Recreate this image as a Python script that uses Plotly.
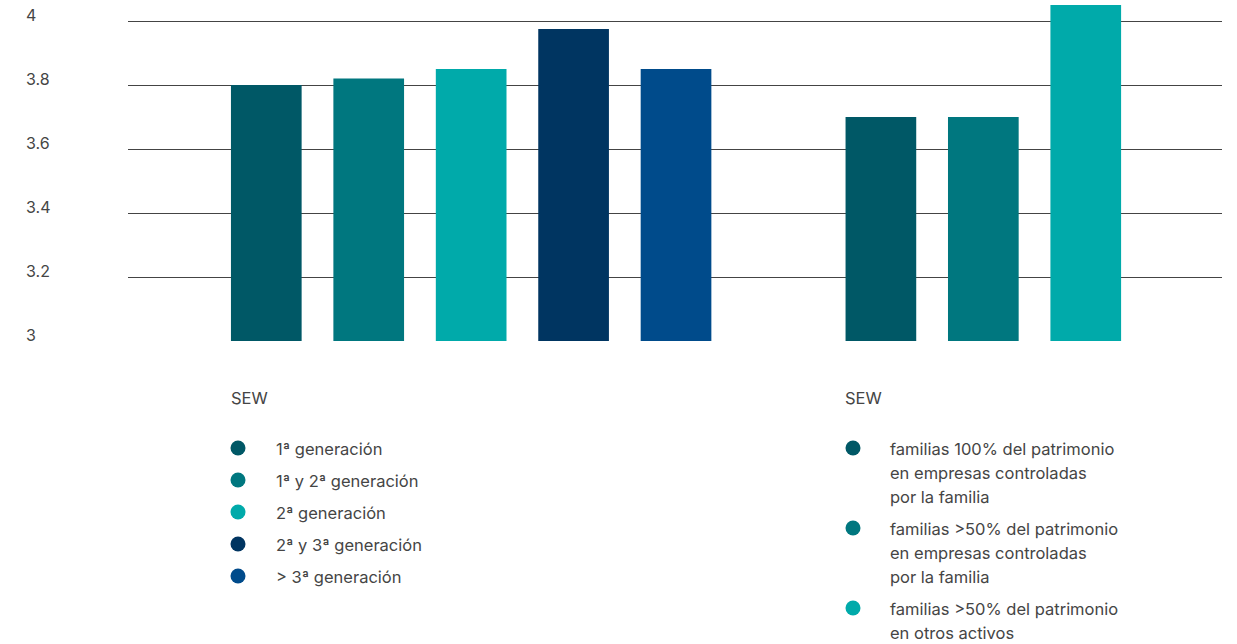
import plotly.graph_objects as go

# Mean SEW score by family generation in control
gen_labels = ["1ª generación", "1ª y 2ª generación", "2ª generación",
              "2ª y 3ª generación", "> 3ª generación"]
gen_values = [3.80, 3.82, 3.85, 3.975, 3.85]
gen_colors = ["#005866", "#00777f", "#00aaaa", "#003561", "#004b8b"]

# Mean SEW score by share of family wealth held in controlled companies
wealth_labels = [
    "familias 100% del patrimonio<br>en empresas controladas<br>por la familia",
    "familias >50% del patrimonio<br>en empresas controladas<br>por la familia",
    "familias >50% del patrimonio<br>en otros activos",
]
wealth_values = [3.70, 3.70, 4.05]
wealth_colors = ["#005866", "#00777f", "#00aaaa"]

y_ticks = [3, 3.2, 3.4, 3.6, 3.8, 4]
y_tick_text = ["3", "3.2", "3.4", "3.6", "3.8", "4"]
legend_title = "SEW"

FONT = "Inter, 'Liberation Sans', Arial, sans-serif"
TEXT_COLOR = "#454545"
FS = 16.5

W, H = 1237, 644
M_L, M_R, M_T, M_B = 128, 15, 0, 303
PW, PH = W - M_L - M_R, H - M_T - M_B

gen_x = list(range(len(gen_values)))
wealth_x = [len(gen_values) + 1 + i for i in range(len(wealth_values))]

fig = go.Figure()
fig.add_trace(go.Bar(x=gen_x, y=gen_values, marker=dict(color=gen_colors, line_width=0),
                     width=0.69, showlegend=False, hoverinfo="y"))
fig.add_trace(go.Bar(x=wealth_x, y=wealth_values, marker=dict(color=wealth_colors, line_width=0),
                     width=0.69, showlegend=False, hoverinfo="y"))


def px_x(px):
    return (px - M_L) / PW


def px_y(py):
    return (M_T + PH - py) / PH


annotations = []
shapes = []

# y tick labels, left aligned, sitting on their gridlines
for v, t in zip(y_ticks, y_tick_text):
    annotations.append(dict(
        x=px_x(24), xref="paper", y=v, yref="y", text=t, showarrow=False,
        xanchor="left", yanchor="bottom", yshift=-6,
        font=dict(family=FONT, size=16, color=TEXT_COLOR)))


def draw_legend(x_title, x_dot, x_text, y_first, labels, colors, line_h, item_gap):
    annotations.append(dict(
        x=px_x(x_title), y=px_y(398), xref="paper", yref="paper", text=legend_title,
        showarrow=False, xanchor="left", yanchor="middle",
        font=dict(family=FONT, size=FS, color=TEXT_COLOR)))
    y = y_first
    for lab, col in zip(labels, colors):
        lines = lab.split("<br>")
        r = 7.5
        shapes.append(dict(
            type="circle", xref="paper", yref="paper",
            x0=px_x(x_dot - r), x1=px_x(x_dot + r),
            y0=px_y(y - 1 + r), y1=px_y(y - 1 - r),
            fillcolor=col, line_width=0))
        for k, line in enumerate(lines):
            annotations.append(dict(
                x=px_x(x_text), y=px_y(y + k * line_h), xref="paper", yref="paper",
                text=line, showarrow=False, xanchor="left", yanchor="middle",
                font=dict(family=FONT, size=FS, color=TEXT_COLOR)))
        y += len(lines) * line_h + item_gap


draw_legend(229, 238, 274, 449, gen_labels, gen_colors, 32, 0)
draw_legend(843, 853, 888, 449, wealth_labels, wealth_colors, 24, 8)

n_slots = len(gen_values) + 1 + len(wealth_values)
fig.update_layout(
    width=W, height=H,
    margin=dict(l=M_L, r=M_R, t=M_T, b=M_B, pad=0),
    plot_bgcolor="white", paper_bgcolor="white",
    barmode="overlay", showlegend=False,
    xaxis=dict(range=[-1.35, n_slots - 1 + 1.33], showticklabels=False, showgrid=False,
               zeroline=False, showline=False, ticks=""),
    yaxis=dict(range=[3, 3 + PH / 320], tickvals=y_ticks, showticklabels=False,
               showgrid=True, gridcolor="#444444", gridwidth=1,
               zeroline=False, showline=False, ticks=""),
    annotations=annotations, shapes=shapes,
    font=dict(family=FONT, color=TEXT_COLOR),
)

fig.write_html("out.html", config={"displayModeBar": False})
